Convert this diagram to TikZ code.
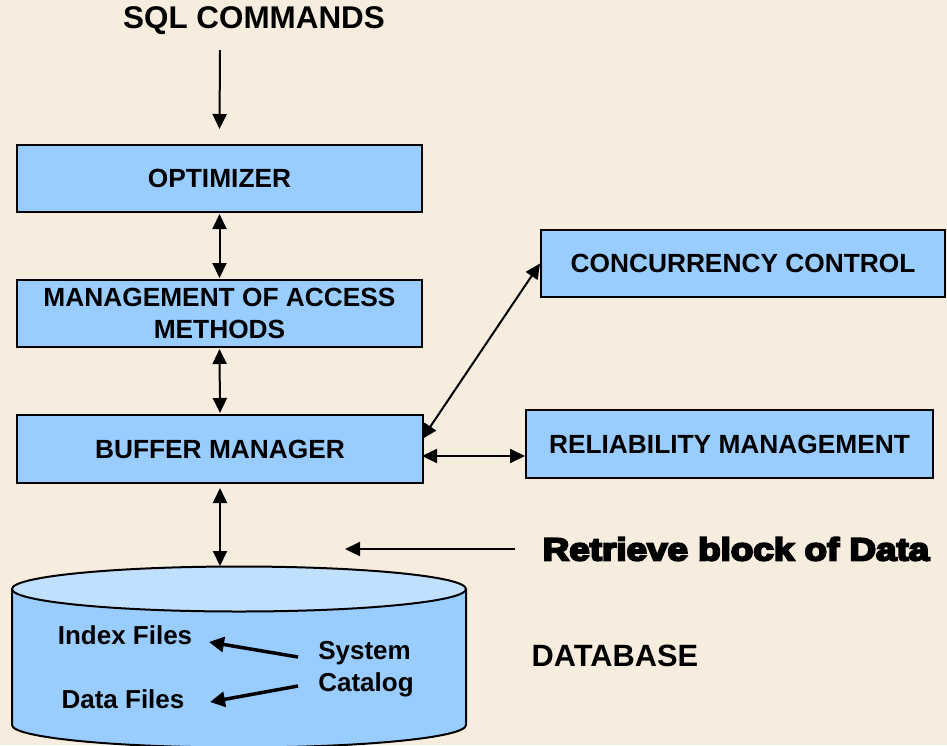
\documentclass[tikz,border=0pt]{standalone}
\usepackage{fontspec}
\setmainfont{Liberation Sans}
\newfontfamily\heavyfont[BoldFont={Liberation Sans Bold}, BoldFeatures={FakeBold=6}]{Liberation Sans}
\usetikzlibrary{arrows.meta}
\definecolor{paper}{RGB}{246,237,223}
\definecolor{boxblue}{RGB}{153,204,255}
\definecolor{toplight}{RGB}{192,224,255}
\tikzset{
  box/.style={draw=black, fill=boxblue, line width=2pt, align=center,
    font=\fontsize{26.3}{32}\selectfont\bfseries, inner sep=0pt},
  lbl/.style={inner sep=0pt, align=left, font=\fontsize{26}{32}\selectfont\bfseries},
  arr/.style={line width=2pt, -{Triangle[length=15pt,width=14pt]}},
  biarr/.style={line width=2pt, {Triangle[length=15pt,width=14pt]}-{Triangle[length=15pt,width=14pt]}},
  thickarr/.style={line width=3.5pt, -{Triangle[length=15pt,width=15pt]}}
}
\begin{document}
\begin{tikzpicture}[x=1pt,y=-1pt]
  \useasboundingbox (0,0) rectangle (947,745);
  \clip (0,0) rectangle (947,745);
  \fill[paper] (0,0) rectangle (947,745);

  % processing stack
  \node[lbl, font=\fontsize{31.4}{31}\selectfont\bfseries] (sql) at (254,21) {SQL COMMANDS};
  \node[box, minimum width=405pt, minimum height=67pt] (opt) at (219.5,178.5) {OPTIMIZER};
  \node[box, minimum width=405pt, minimum height=67pt] (acc) at (219.5,313.5) {MANAGEMENT OF ACCESS\\METHODS};
  \node[box, minimum width=406pt, minimum height=68pt] (buf) at (220,449) {BUFFER MANAGER};
  \node[box, minimum width=404pt, minimum height=67pt] (cc) at (743,263.5) {CONCURRENCY CONTROL};
  \node[box, minimum width=407pt, minimum height=68pt] (rel) at (729.5,444) {RELIABILITY MANAGEMENT};

  % database cylinder
  \path[fill=boxblue, draw=black, line width=2pt]
    (12,589) -- (12,725) arc[start angle=180, end angle=0, x radius=227, y radius=22.5] -- (466,589);
  \draw[fill=toplight, line width=2pt] (239,589) ellipse[x radius=227, y radius=22.5];
  \coordinate (dbtop) at (220,566);

  \node[lbl] (idx) at (125,635) {Index Files};
  \node[lbl] (dat) at (123,699) {Data Files};
  \node[lbl] (cat) at (366,669) {System\\Catalog};
  \node[lbl, font=\fontsize{30.8}{30}\selectfont\bfseries] (dbname) at (615,656) {DATABASE};

  \node[inner sep=0pt, font=\heavyfont\bfseries\fontsize{32}{32}\selectfont, xscale=1.15] (ret) at (736,549) {Retrieve block of Data};

  % connectors
  \coordinate (cmdtail) at (220,50);
  \draw[arr] (cmdtail) -- ([yshift=15pt]opt.north);
  \draw[biarr] ([yshift=-1pt]opt.south) -- ([yshift=1pt]acc.north);
  \draw[biarr] ([yshift=-1pt]acc.south) -- ([yshift=1pt]buf.north);
  \draw[biarr] ([yshift=-4pt]buf.south) -- (dbtop);
  \draw[biarr] ([xshift=-2pt,yshift=10pt]buf.east) -- (cc.west);
  \draw[biarr] ([xshift=-2pt,yshift=-7pt]buf.east) -- ([yshift=-12pt]rel.west);

  \coordinate (rettip) at (345,549);
  \draw[arr] (515,549) -- (rettip);

  \coordinate (idxtip) at (209,642);
  \coordinate (dattip) at (210,702);
  \draw[thickarr] (298,657) -- (idxtip);
  \draw[thickarr] (298,686) -- (dattip);
\end{tikzpicture}
\end{document}
